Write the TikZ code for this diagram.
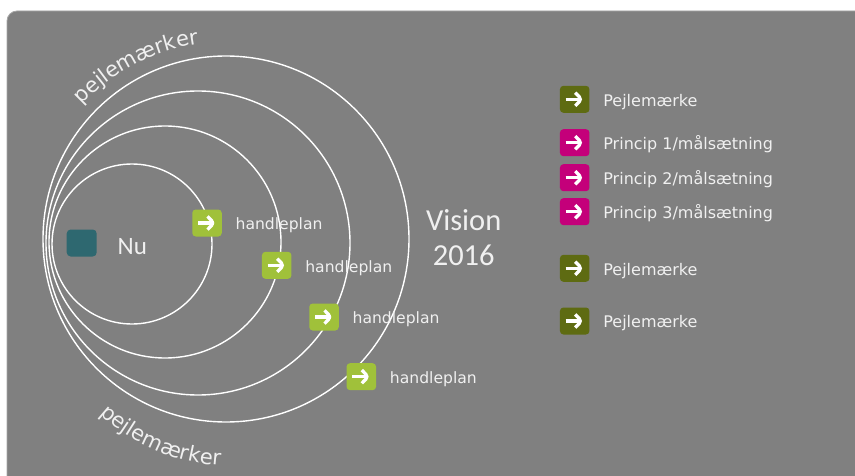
\documentclass[tikz,border=0pt]{standalone}
\usepackage{fontspec}
\setmainfont{DejaVu Sans}
\newfontfamily\calfont{Carlito}
\usetikzlibrary{decorations.text}
\definecolor{bg}{HTML}{808080}
\definecolor{bgedge}{HTML}{A6A6A6}
\definecolor{txt}{HTML}{F0F0F0}
\definecolor{lime}{HTML}{A0C13A}
\definecolor{olivegreen}{HTML}{5E6B12}
\definecolor{magentabox}{HTML}{C4007A}
\definecolor{tealbox}{HTML}{2E6870}
\tikzset{
  ring/.style={draw=white, line width=1.4pt},
  iconbox/.style={minimum width=29.5pt, minimum height=27pt, inner sep=0pt, rounded corners=3.5pt,
    path picture={
      \draw[white, line width=3.3pt] ([xshift=-9pt]path picture bounding box.center) -- ([xshift=6.5pt]path picture bounding box.center);
      \draw[white, line width=3.3pt, line join=miter] ([shift={(0.5pt,6.6pt)}]path picture bounding box.center) -- ([xshift=7pt]path picture bounding box.center) -- ([shift={(0.5pt,-6.6pt)}]path picture bounding box.center);
    }},
  lab/.style={text=txt, inner sep=0pt, font=\fontsize{15.6}{18}\selectfont},
  leg/.style={text=txt, inner sep=0pt, font=\fontsize{16}{18}\selectfont},
  big/.style={text=txt, inner sep=0pt, font=\calfont\fontsize{30.5}{34}\selectfont},
  curvetext/.style={decorate, decoration={text along path, text={|\fontsize{21}{24}\selectfont\color{txt}|#1}}},
}
\begin{document}
\begin{tikzpicture}[x=1pt,y=1pt]
\clip (0,0) rectangle (855,475);
\useasboundingbox (0,0) rectangle (855,475);
\filldraw[fill=bg, draw=bgedge, line width=0.8pt, rounded corners=10pt] (7,-30) rectangle (890,464);

% rings
\draw[ring] (132,231) circle[radius=80pt];
\draw[ring] (165,233) circle[radius=116pt];
\draw[ring] (198,232) circle[radius=152pt];
\draw[ring] (226,236) circle[radius=183pt];

% curved labels
\path[curvetext=pejlemærker]
  ([shift={(226pt,236pt)}]137:197pt) arc[start angle=137, end angle=97, radius=197pt];
\path[curvetext=pejlemærker]
  ([shift={(233pt,207pt)}]227.5:198pt) arc[start angle=227.5, end angle=270, radius=198pt];

% Nu
\node[minimum width=30pt, minimum height=27pt, inner sep=0pt, rounded corners=4pt, fill=tealbox] (nu) at (81.7,232) {};
\node[text=txt, inner sep=0pt, font=\calfont\fontsize{25}{28}\selectfont, anchor=base west] (nut) at (117.5,221) {Nu};

% handleplan
\node[iconbox, fill=lime] (h1) at (207,252) {};
\node[lab, anchor=base west] (h1t) at ([xshift=13.5pt, yshift=-6.7pt]h1.east) {handleplan};
\node[iconbox, fill=lime] (h2) at (276.7,209.7) {};
\node[lab, anchor=base west] (h2t) at ([xshift=13.5pt, yshift=-6.7pt]h2.east) {handleplan};
\node[iconbox, fill=lime] (h3) at (324,158) {};
\node[lab, anchor=base west] (h3t) at ([xshift=13.5pt, yshift=-6.7pt]h3.east) {handleplan};
\node[iconbox, fill=lime] (h4) at (361.3,98.3) {};
\node[lab, anchor=base west] (h4t) at ([xshift=13.5pt, yshift=-6.7pt]h4.east) {handleplan};

% Vision
\node[big, anchor=base] (vis) at (463.7,245) {Vision};
\node[big, anchor=base] (yr) at (463.7,209.3) {2016};

% legend
\node[iconbox, fill=olivegreen] (l1) at (574.7,375.7) {};
\node[leg, anchor=base west] (l1t) at ([xshift=13.5pt, yshift=-6.8pt]l1.east) {Pejlemærke};
\node[iconbox, fill=magentabox] (l2) at (574.7,332.3) {};
\node[leg, anchor=base west] (l2t) at ([xshift=13.5pt, yshift=-6.8pt]l2.east) {Princip 1/målsætning};
\node[iconbox, fill=magentabox] (l3) at (574.7,297.3) {};
\node[leg, anchor=base west] (l3t) at ([xshift=13.5pt, yshift=-6.8pt]l3.east) {Princip 2/målsætning};
\node[iconbox, fill=magentabox] (l4) at (574.7,263.3) {};
\node[leg, anchor=base west] (l4t) at ([xshift=13.5pt, yshift=-6.8pt]l4.east) {Princip 3/målsætning};
\node[iconbox, fill=olivegreen] (l5) at (574.7,206.7) {};
\node[leg, anchor=base west] (l5t) at ([xshift=13.5pt, yshift=-6.8pt]l5.east) {Pejlemærke};
\node[iconbox, fill=olivegreen] (l6) at (574.7,154) {};
\node[leg, anchor=base west] (l6t) at ([xshift=13.5pt, yshift=-6.8pt]l6.east) {Pejlemærke};
\end{tikzpicture}
\end{document}
